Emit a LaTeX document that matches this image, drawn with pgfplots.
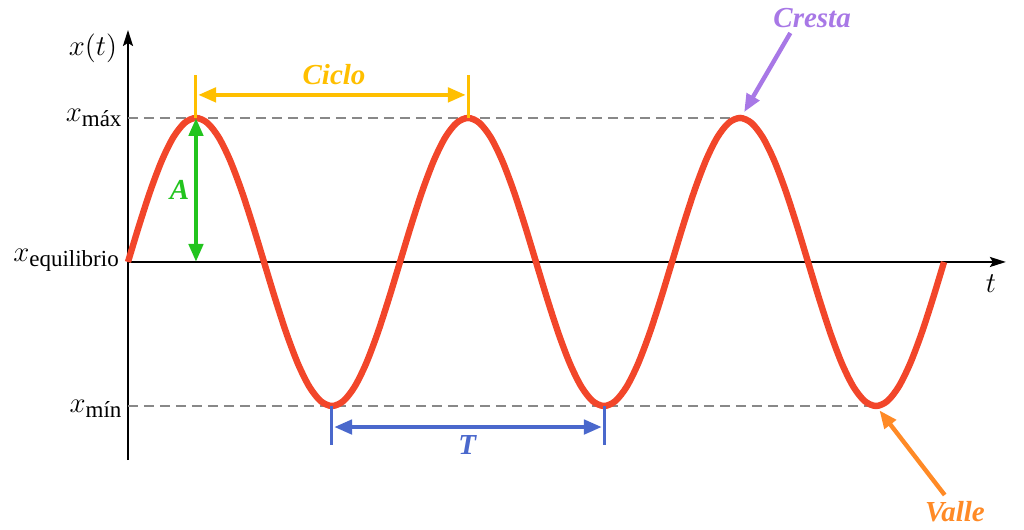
\documentclass[border=0pt]{standalone}
\usepackage{pgfplots}
\pgfplotsset{compat=1.18}
\usepackage{pgfplotstable}
\usepackage{fontspec}
\setmainfont{Liberation Serif}
\usetikzlibrary{arrows.meta}
\definecolor{wavecol}{HTML}{F2462A}
\definecolor{ciclocol}{HTML}{FFBF00}
\definecolor{ampcol}{HTML}{22C41E}
\definecolor{percol}{HTML}{4A68CC}
\definecolor{crestacol}{HTML}{A878E6}
\definecolor{vallecol}{HTML}{FF8A26}
\definecolor{dashgray}{HTML}{888888}
\pgfplotstableread{
t x
0 0
0.1667 0.2588
0.3333 0.5
0.5 0.7071
0.6667 0.866
0.8333 0.9659
1 1
1.1667 0.9659
1.3333 0.866
1.5 0.7071
1.6667 0.5
1.8333 0.2588
2 0
2.1667 -0.2588
2.3333 -0.5
2.5 -0.7071
2.6667 -0.866
2.8333 -0.9659
3 -1
3.1667 -0.9659
3.3333 -0.866
3.5 -0.7071
3.6667 -0.5
3.8333 -0.2588
4 0
4.1667 0.2588
4.3333 0.5
4.5 0.7071
4.6667 0.866
4.8333 0.9659
5 1
5.1667 0.9659
5.3333 0.866
5.5 0.7071
5.6667 0.5
5.8333 0.2588
6 0
6.1667 -0.2588
6.3333 -0.5
6.5 -0.7071
6.6667 -0.866
6.8333 -0.9659
7 -1
7.1667 -0.9659
7.3333 -0.866
7.5 -0.7071
7.6667 -0.5
7.8333 -0.2588
8 0
8.1667 0.2588
8.3333 0.5
8.5 0.7071
8.6667 0.866
8.8333 0.9659
9 1
9.1667 0.9659
9.3333 0.866
9.5 0.7071
9.6667 0.5
9.8333 0.2588
10 0
10.1667 -0.2588
10.3333 -0.5
10.5 -0.7071
10.6667 -0.866
10.8333 -0.9659
11 -1
11.1667 -0.9659
11.3333 -0.866
11.5 -0.7071
11.6667 -0.5
11.8333 -0.2588
12 0
}\wave
\newcommand\lab{\fontsize{14.5}{16}\selectfont\bfseries\itshape}
\newcommand\mx{\fontsize{15}{16}\selectfont}
\newcommand\sub[1]{\raisebox{-2.5pt}{\fontsize{11.5}{12}\selectfont #1}}
\begin{document}
\begin{tikzpicture}
\begin{axis}[scale only axis, width=512pt, height=265pt,
  xmin=-1.882, xmax=13.176, ymin=-1.861, ymax=1.819,
  hide axis, clip=false]
\coordinate (tl) at (axis cs:-1.882,1.819);
\coordinate (br) at (axis cs:13.176,-1.861);
% axes
\draw[line width=1.1pt, -{Stealth[length=8pt,width=5pt,inset=1.5pt]}] (axis cs:0,-1.375) -- (axis cs:0,1.611);
\draw[line width=1.1pt, -{Stealth[length=8pt,width=5pt,inset=1.5pt]}] (axis cs:0,0) -- (axis cs:12.91,0);
% dashed reference lines
\addplot[dashgray, line width=1.1pt, dash pattern=on 5pt off 3pt, forget plot] coordinates {(0,1) (9,1)};
\addplot[dashgray, line width=1.1pt, dash pattern=on 5pt off 3pt, forget plot] coordinates {(0,-1) (11,-1)};
% wave
\addplot[wavecol, line width=3.2pt, smooth] table[x=t,y=x] {\wave};
% Ciclo
\draw[ciclocol, line width=1.5pt] (axis cs:1,1.0) -- (axis cs:1,1.30);
\draw[ciclocol, line width=1.5pt] (axis cs:5,1.0) -- (axis cs:5,1.30);
\draw[ciclocol, line width=2.2pt, {Triangle[length=9pt,width=7pt]}-{Triangle[length=9pt,width=7pt]}] (axis cs:1.03,1.16) -- (axis cs:4.97,1.16);
\node[ciclocol] at (axis cs:3.03,1.30) {\lab Ciclo};
% Amplitude
\draw[ampcol, line width=2.2pt, {Triangle[length=9pt,width=7pt]}-{Triangle[length=9pt,width=7pt]}] (axis cs:1,1.0) -- (axis cs:1,0.0);
\node[ampcol] at (axis cs:0.76,0.50) {\lab A};
% Period
\draw[percol, line width=1.5pt] (axis cs:3,-1.0) -- (axis cs:3,-1.27);
\draw[percol, line width=1.5pt] (axis cs:7,-1.0) -- (axis cs:7,-1.27);
\draw[percol, line width=2.2pt, {Triangle[length=9pt,width=7pt]}-{Triangle[length=9pt,width=7pt]}] (axis cs:3.03,-1.146) -- (axis cs:6.97,-1.146);
\node[percol] at (axis cs:4.99,-1.27) {\lab T};
% Cresta
\draw[crestacol, line width=2.2pt, -{Triangle[length=9pt,width=7pt]}] (axis cs:9.74,1.59) -- (axis cs:9.06,1.04);
\node[crestacol] at (axis cs:10.06,1.694) {\lab Cresta};
% Valle
\draw[vallecol, line width=2.2pt, -{Triangle[length=9pt,width=7pt]}] (axis cs:12.01,-1.618) -- (axis cs:11.05,-1.03);
\node[vallecol] at (axis cs:12.16,-1.736) {\lab Valle};
% labels
\node at (axis cs:-0.515,1.486) {\mx $x(t)$};
\node at (axis cs:12.69,-0.153) {\mx $t$};
\node[anchor=base east, inner sep=0pt] at (axis cs:-0.09,0.972) {\mx $x$\sub{máx}};
\node[anchor=base east, inner sep=0pt] at (axis cs:-0.13,0) {\mx $x$\sub{equilibrio}};
\node[anchor=base east, inner sep=0pt] at (axis cs:-0.09,-1.042) {\mx $x$\sub{mín}};
\end{axis}
\pgfresetboundingbox
\path[use as bounding box] (tl) rectangle (br);
\end{tikzpicture}
\end{document}
